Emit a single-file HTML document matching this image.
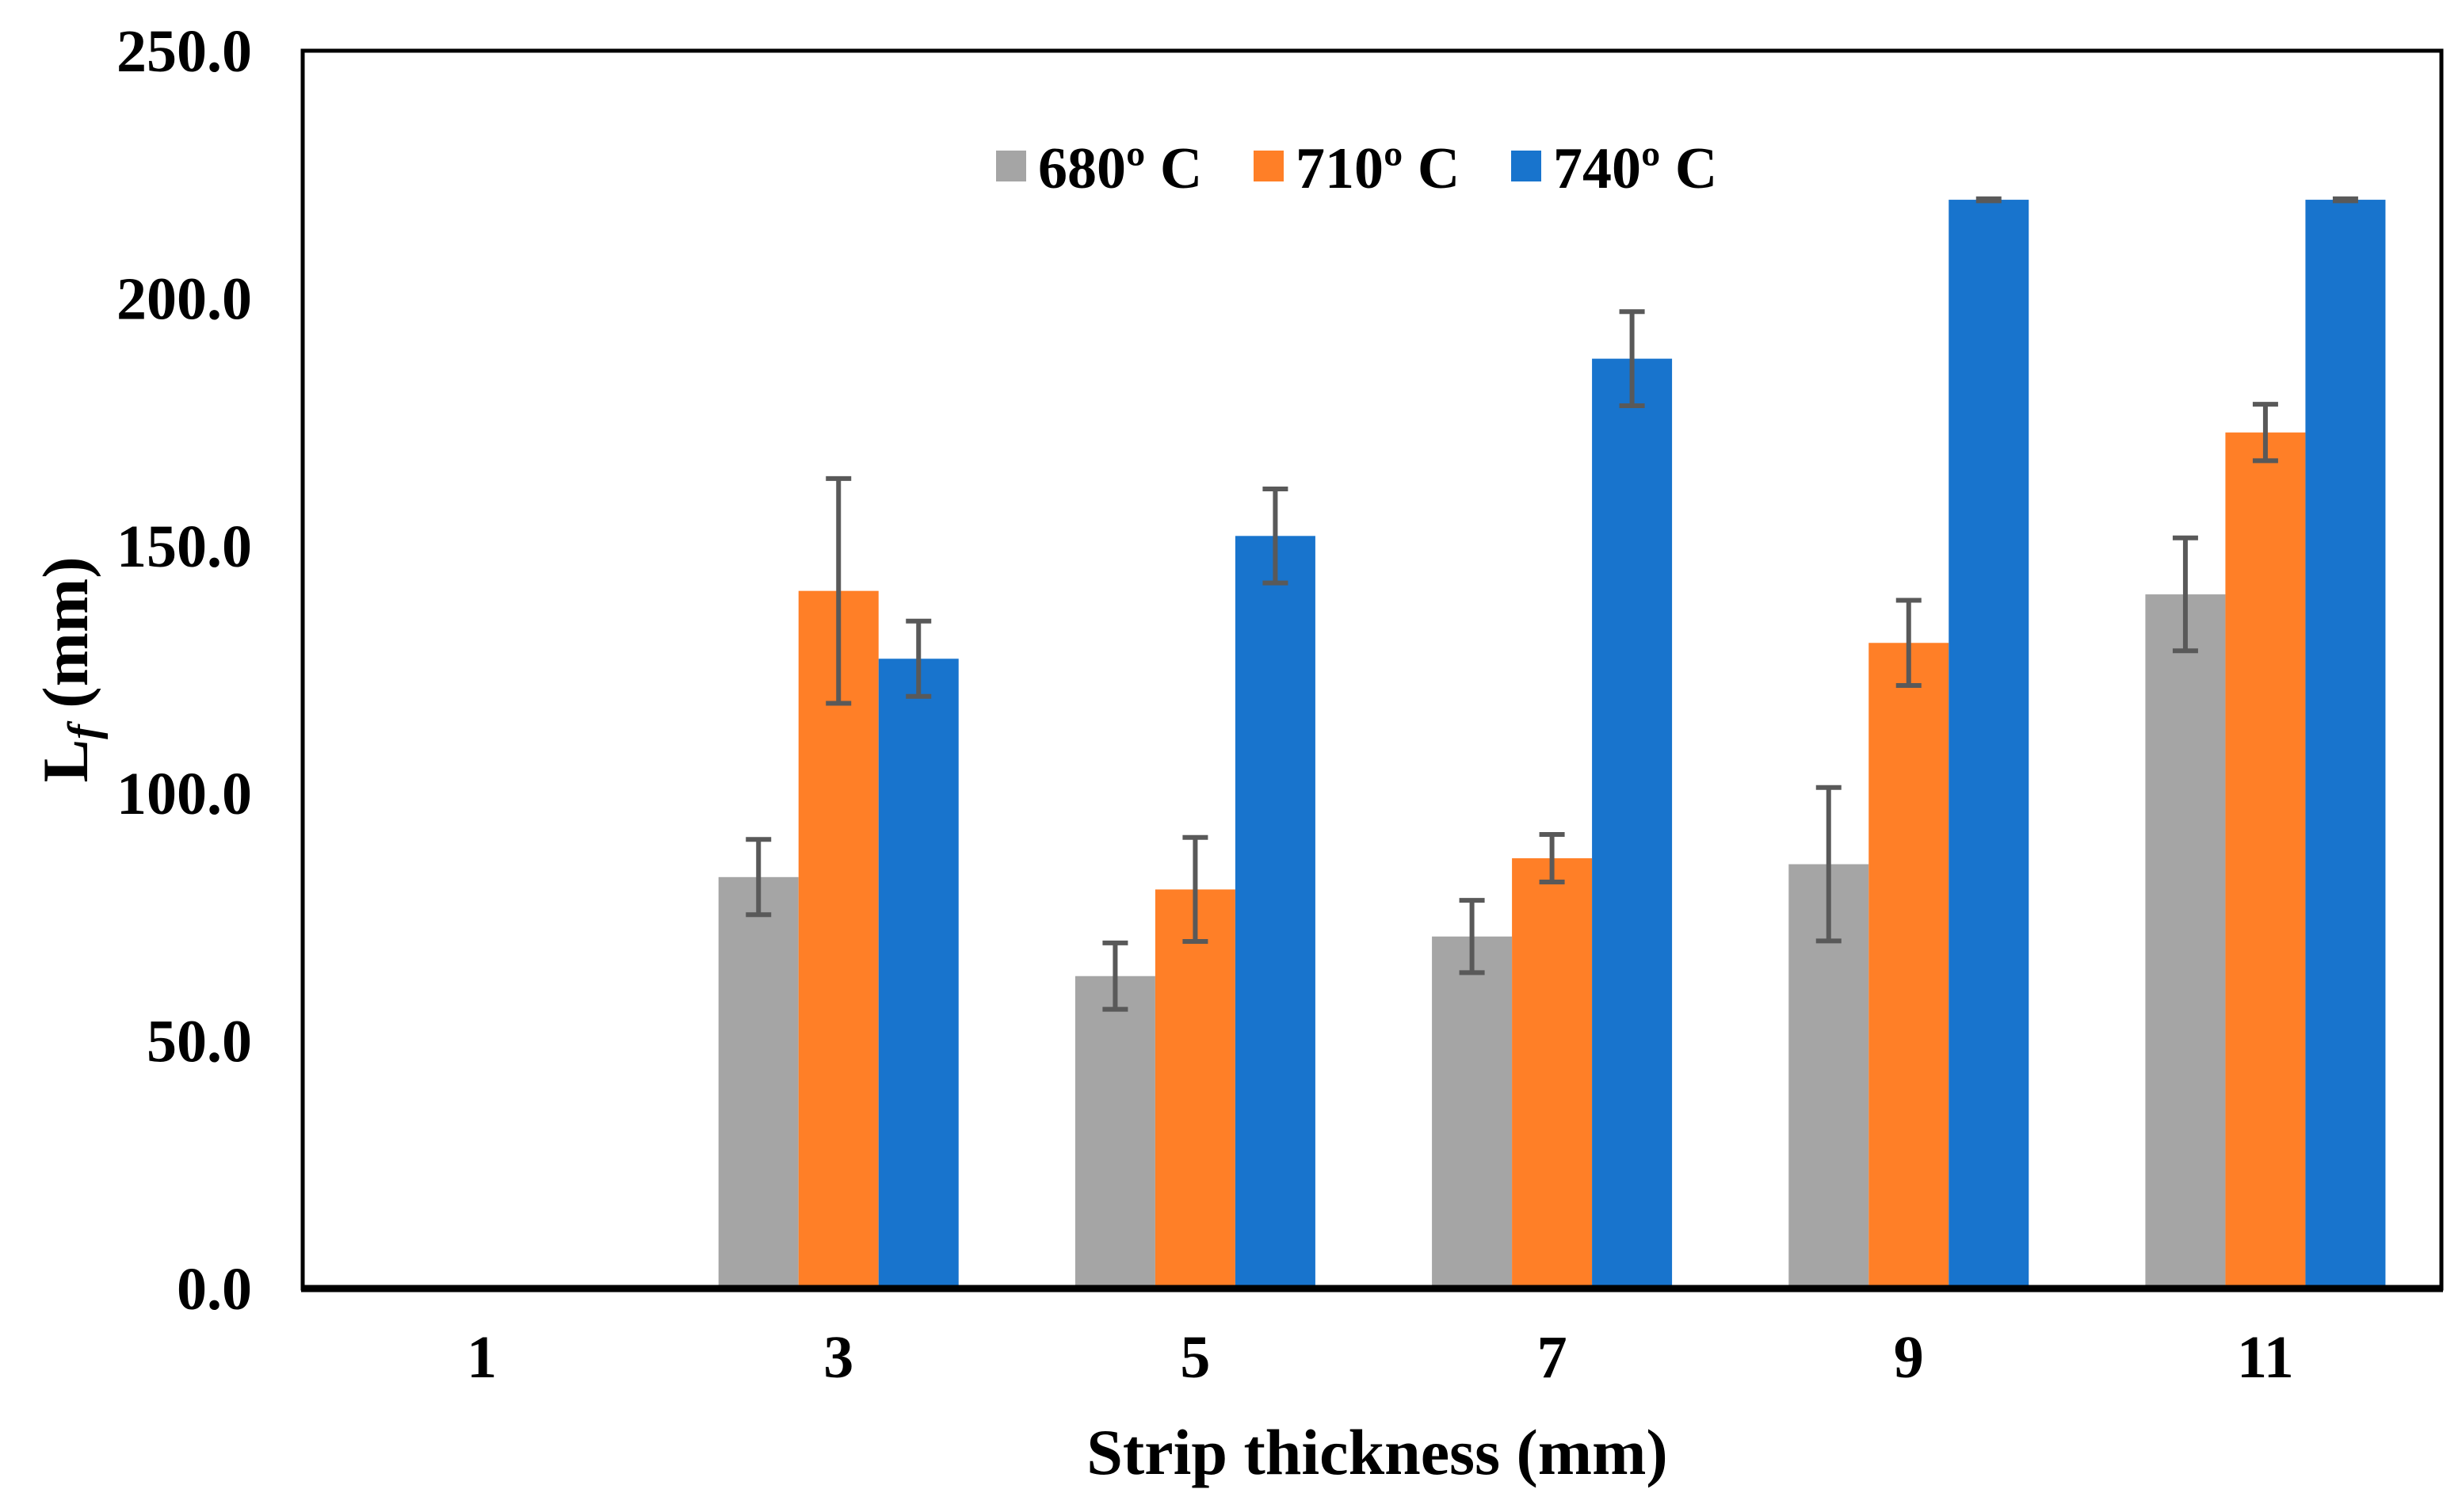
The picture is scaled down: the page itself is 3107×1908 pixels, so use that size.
<!DOCTYPE html>
<html><head><meta charset="utf-8"><style>
html,body{margin:0;padding:0;background:#fff}
svg text{font-family:"Liberation Serif",serif;font-weight:bold;fill:#000}
</style></head><body>
<svg id="chart" width="3107" height="1903" viewBox="0 0 3107 1903" xmlns="http://www.w3.org/2000/svg">
<rect x="382" y="64" width="2699" height="1562" fill="none" stroke="#000" stroke-width="5"/>
<g id="bars"></g>
<g id="errs"></g>
<line x1="380" y1="1626" x2="3083" y2="1626" stroke="#000" stroke-width="9"/>
<g id="yticks"></g>
<g id="xticks"></g>
<text x="1738" y="1860" font-size="82" text-anchor="middle">Strip thickness (mm)</text>
<text transform="translate(110,845) rotate(-90)" font-size="82" text-anchor="middle">L<tspan font-style="italic" font-size="56" dy="14">f</tspan><tspan dy="-14"> (mm)</tspan></text>
<g>
<rect x="1257" y="190" width="38" height="39" fill="#a5a5a5"/>
<text x="1310" y="237" font-size="74">680º C</text>
<rect x="1582" y="190" width="38" height="39" fill="#ff7f27"/>
<text x="1635" y="237" font-size="74">710º C</text>
<rect x="1907" y="190" width="38" height="39" fill="#1874cd"/>
<text x="1960" y="237" font-size="74">740º C</text>
</g>
</svg>
<script>
const categories = ["1","3","5","7","9","11"];
const s680 = [0, 83.1, 63.1, 71.1, 85.7, 140.2];
const s710 = [0, 140.9, 80.6, 86.9, 130.4, 172.9];
const s740 = [0, 127.2, 152.0, 187.8, 219.9, 219.9];
const e680 = [0, 7.6, 6.7, 7.3, 15.5, 11.4];
const e710 = [0, 22.7, 10.5, 4.8, 8.6, 5.7];
const e740 = [0, 7.6, 9.5, 9.5, 0.2, 0.2];
const yTicks = [0, 50, 100, 150, 200, 250];

const X0 = 383, X1 = 3084, Y0 = 1626, Y1 = 64, YMAX = 250;
const NS = "http://www.w3.org/2000/svg";
const bw = (X1 - X0) / categories.length;
function y(v){ return Y0 - (v / YMAX) * (Y0 - Y1); }
function xc(i){ return X0 + bw * (i + 0.5); }
const barW = 101;
const series = [
  {name:"680", vals:s680, errs:e680, color:"#a5a5a5"},
  {name:"710", vals:s710, errs:e710, color:"#ff7f27"},
  {name:"740", vals:s740, errs:e740, color:"#1874cd"}
];
const gb = document.getElementById('bars'), ge = document.getElementById('errs');
series.forEach((s, si) => {
  s.vals.forEach((v, i) => {
    if (v <= 0) return;
    const x = xc(i) + (si - 1.5) * barW;
    const r = document.createElementNS(NS, 'rect');
    
    
    r.setAttribute('x', x); r.setAttribute('y', y(v));
    r.setAttribute('width', barW); r.setAttribute('height', y(0) - y(v));
    r.setAttribute('fill', s.color);
    gb.appendChild(r);
    const e = s.errs[i], cx = x + barW / 2;
    const p = document.createElementNS(NS, 'path');
    
    
    p.setAttribute('d', `M${cx},${y(v+e)}V${y(v-e)}M${cx-16},${y(v+e)}H${cx+16}M${cx-16},${y(v-e)}H${cx+16}`);
    p.setAttribute('stroke', '#595959'); p.setAttribute('stroke-width', '6'); p.setAttribute('fill', 'none');
    ge.appendChild(p);
  });
});
const gy = document.getElementById('yticks');
yTicks.forEach(t => {
  const tx = document.createElementNS(NS, 'text');
  
  
  tx.setAttribute('x', 318); tx.setAttribute('y', y(t) + 26);
  tx.setAttribute('font-size', '76'); tx.setAttribute('text-anchor', 'end');
  tx.textContent = t.toFixed(1);
  gy.appendChild(tx);
});
const gx = document.getElementById('xticks');
categories.forEach((c, i) => {
  const tx = document.createElementNS(NS, 'text');
  
  
  tx.setAttribute('x', xc(i)); tx.setAttribute('y', 1738);
  tx.setAttribute('font-size', '76'); tx.setAttribute('text-anchor', 'middle');
  tx.textContent = c;
  gx.appendChild(tx);
});
</script>
</body></html>
